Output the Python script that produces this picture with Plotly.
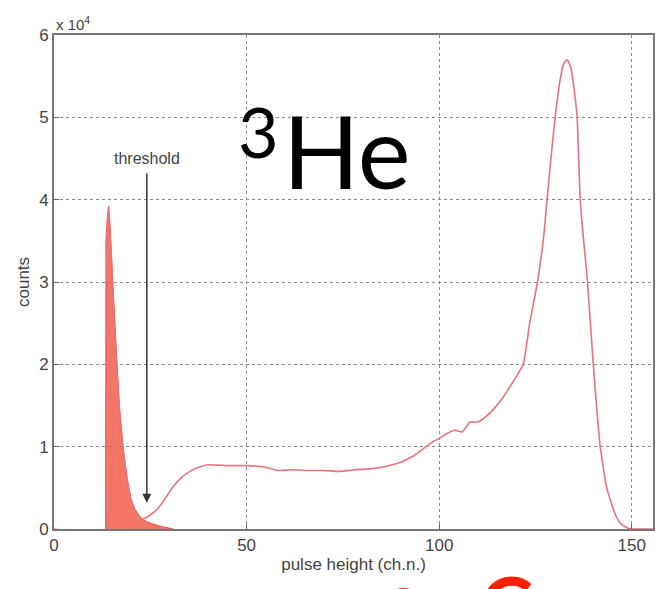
import plotly.graph_objects as go

# pulse height (channel number) and counts in units of 10^4
spec_x = [0, 13.4, 13.6, 14.2, 15, 16, 17, 18, 19, 20, 21, 22, 23, 24, 25, 27, 29, 31, 33, 35, 37,
          40, 45, 50, 55, 58, 62, 66, 70, 74, 78, 82, 86, 90, 93, 96, 98, 100, 102, 104, 106, 108,
          110, 112, 114, 116, 118, 120, 121.8, 123.5, 125.5, 127, 128, 129, 130.1, 131.2, 132.3,
          133.2, 134.2, 135, 135.8, 136.6, 137.5, 138.5, 140, 141.8, 143.5, 145.5, 147, 149, 150, 155.5]
spec_y = [0, 0, 3.5, 3.92, 3.2, 2.2, 1.45, 0.95, 0.6, 0.36, 0.22, 0.14, 0.12, 0.14, 0.17, 0.25, 0.38,
          0.52, 0.62, 0.69, 0.74, 0.78, 0.77, 0.77, 0.75, 0.71, 0.72, 0.71, 0.71, 0.70, 0.72, 0.73,
          0.76, 0.81, 0.88, 0.98, 1.05, 1.10, 1.16, 1.20, 1.18, 1.30, 1.30, 1.36, 1.45, 1.56, 1.70,
          1.85, 2.0, 2.5, 3.0, 3.5, 4.0, 4.5, 5.0, 5.4, 5.65, 5.7, 5.6, 5.35, 5.0, 4.0, 3.5, 3.0,
          2.0, 1.0, 0.5, 0.2, 0.07, 0.01, 0, 0]

noise_x = [13.4, 13.5, 14.2, 15, 16, 17, 18, 19, 20, 21, 22, 23, 24, 26, 28, 30, 31]
noise_y = [0, 3.5, 3.92, 3.2, 2.2, 1.45, 0.95, 0.6, 0.36, 0.24, 0.17, 0.12, 0.09, 0.055, 0.03, 0.01, 0]

x_ticks = [0, 50, 100, 150]
y_ticks = [0, 1, 2, 3, 4, 5, 6]
threshold_x = 24.1

fig = go.Figure()
fig.add_trace(go.Scatter(x=noise_x, y=noise_y, mode="lines", fill="tozeroy",
                         line=dict(color="rgba(235,70,50,0.9)", width=1),
                         fillcolor="rgba(242,95,75,0.85)", hoverinfo="skip"))
fig.add_trace(go.Scatter(x=spec_x, y=spec_y, mode="lines",
                         line=dict(color="#e8737a", width=1.6, shape="spline", smoothing=0.5),
                         hoverinfo="skip"))

tickfont = dict(family="Liberation Sans", size=17, color="#444")
titlefont = dict(family="Liberation Sans", size=17, color="#444")
axis_common = dict(showline=True, mirror=True, linecolor="#777", linewidth=1.8,
                   ticks="inside", ticklen=5, tickcolor="#666",
                   showgrid=True, gridcolor="#8a8a8a", griddash="dot", gridwidth=1,
                   zeroline=False, tickfont=tickfont, automargin=False)

fig.update_xaxes(range=[0, 155.5], tickvals=x_ticks,
                 title=dict(text="pulse height (ch.n.)", font=titlefont, standoff=3),
                 **axis_common)
fig.update_yaxes(range=[0, 6], tickvals=y_ticks,
                 title=dict(text="counts", font=titlefont, standoff=5),
                 **axis_common)

fig.add_annotation(x=threshold_x, y=0.32, ax=threshold_x, ay=4.34, xref="x", yref="y", axref="x", ayref="y",
                   showarrow=True, arrowhead=2, arrowsize=1.2, arrowwidth=1.5, arrowcolor="#333", text="")
fig.add_annotation(x=threshold_x, y=4.5, text="threshold", showarrow=False,
                   font=dict(family="Liberation Sans", size=16, color="#444"))
fig.add_annotation(x=76, y=4.6, text="He", showarrow=False, xanchor="center", yanchor="middle",
                   font=dict(family="Lato", size=100, color="#000"))
fig.add_annotation(x=53.2, y=4.83, text="3", showarrow=False, xanchor="center", yanchor="middle",
                   font=dict(family="Lato", size=70, color="#000"))
fig.add_annotation(xref="paper", yref="paper", x=0.0, y=1.0, xanchor="left", yanchor="bottom",
                   text="x 10<sup>4</sup>", showarrow=False,
                   font=dict(family="Liberation Sans", size=15, color="#444"))
# partially visible red text at the bottom edge
fig.add_annotation(xref="paper", yref="paper", x=0.756, y=-0.152, xanchor="center", yanchor="middle",
                   text="<b>C</b>", showarrow=False, font=dict(family="Lato", size=80, color="#ff2200"))
fig.add_annotation(xref="paper", yref="paper", x=0.583, y=-0.136, xanchor="center", yanchor="middle",
                   text="<b>o</b>", showarrow=False, font=dict(family="Lato", size=60, color="#ff2200"))

fig.update_layout(width=670, height=589, margin=dict(l=46, r=25, t=27, b=68),
                  paper_bgcolor="white", plot_bgcolor="white", showlegend=False)
fig.write_html("out.html")
